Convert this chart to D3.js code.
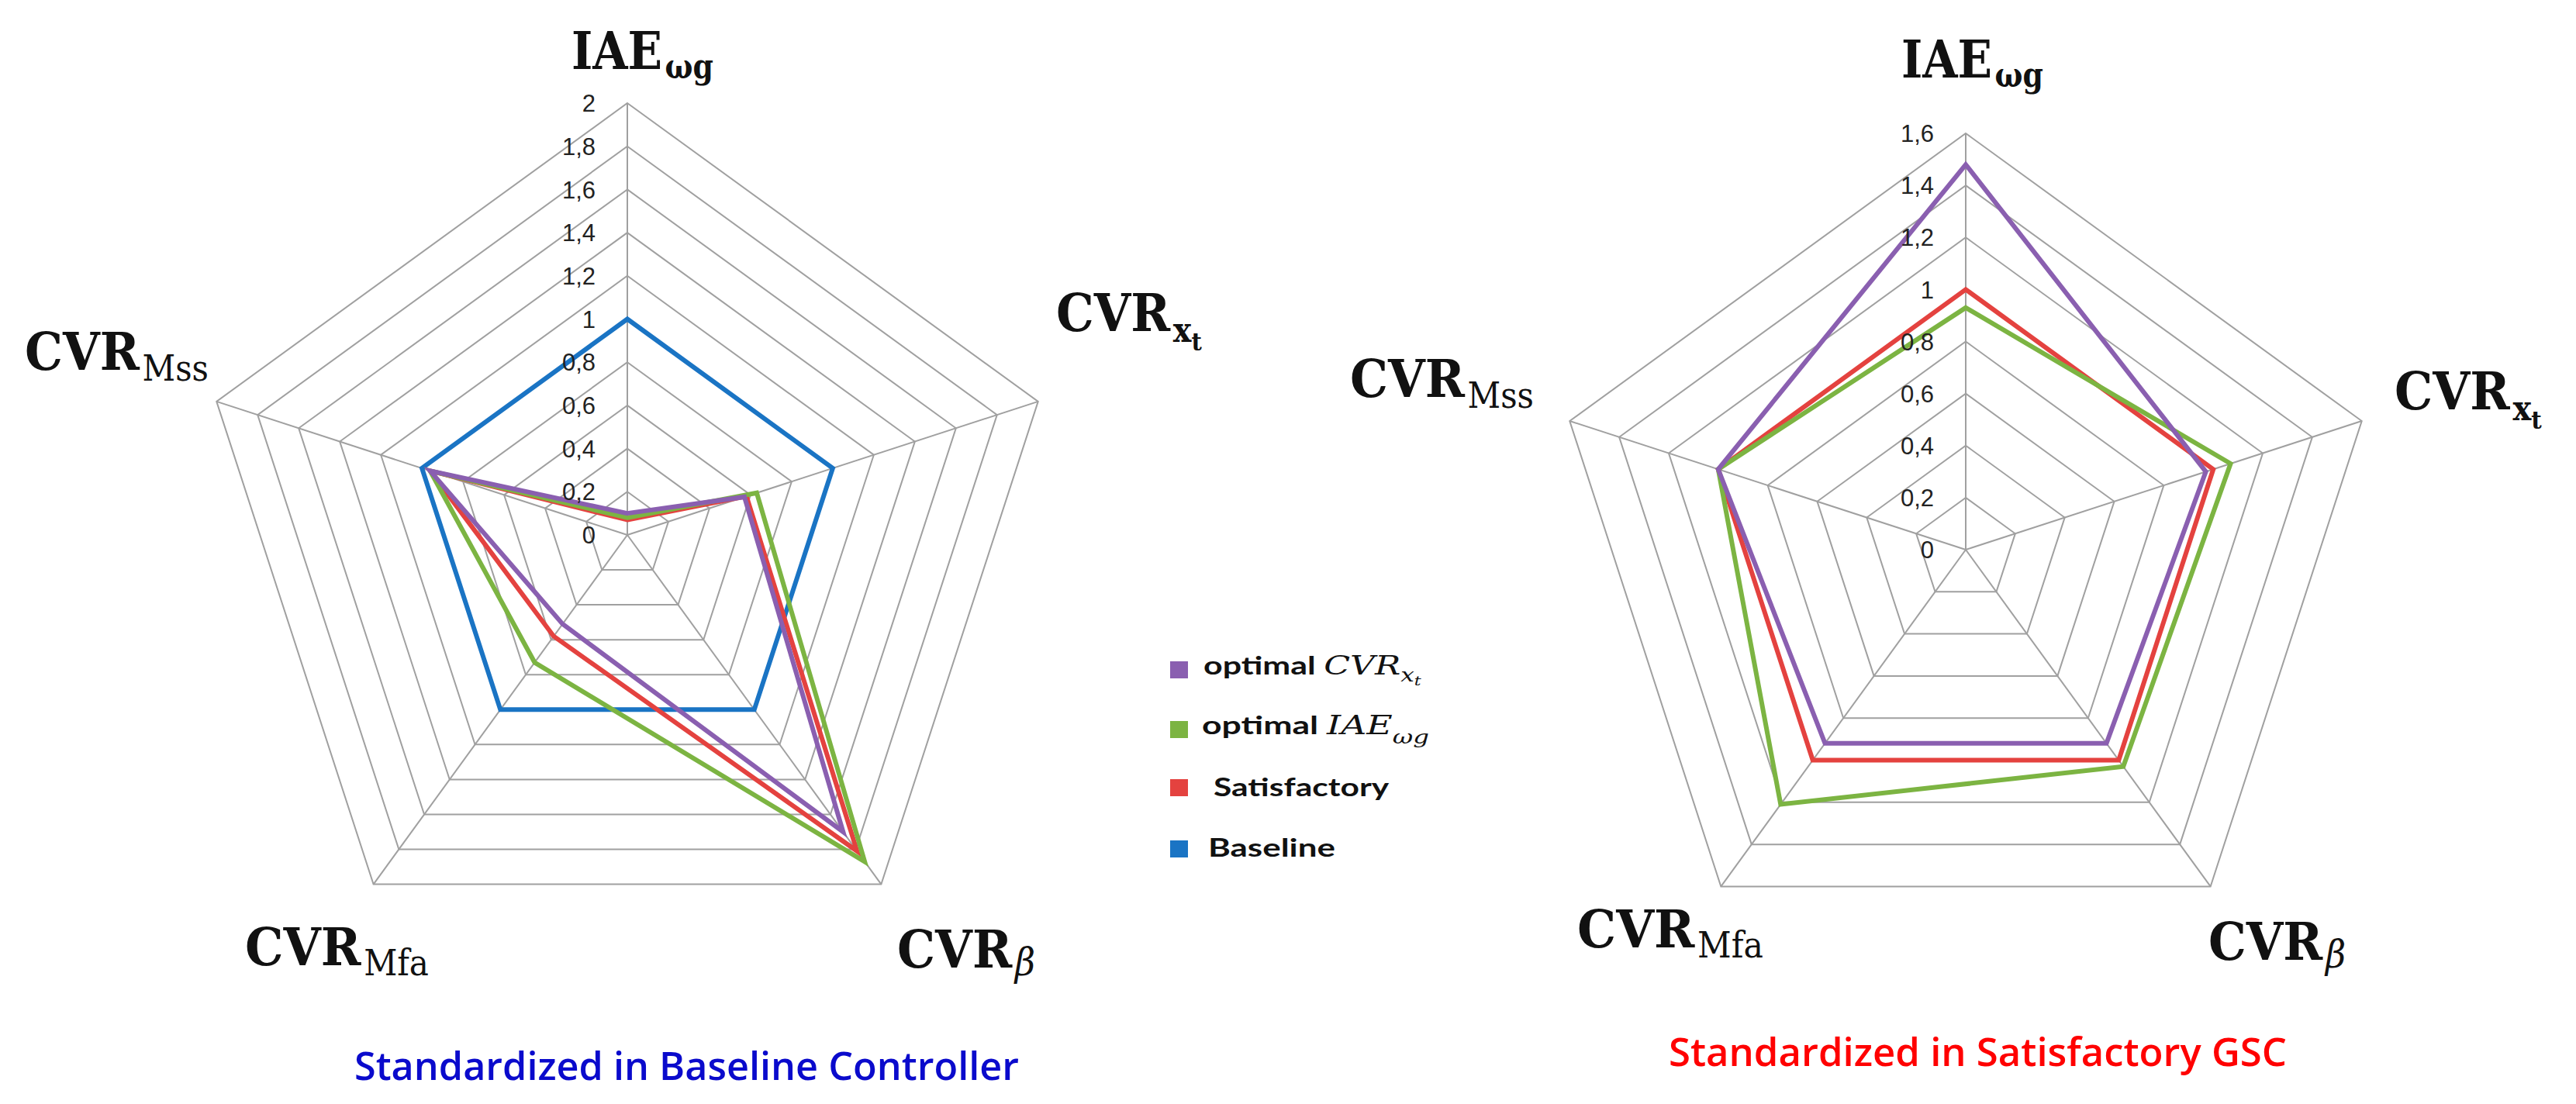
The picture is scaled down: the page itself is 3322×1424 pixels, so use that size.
<!DOCTYPE html>
<html><head><meta charset="utf-8">
<script src="https://cdn.jsdelivr.net/npm/d3@7"></script>
<style>html,body{margin:0;padding:0;background:#fff;} svg{display:block;}</style>
</head><body>
<svg id="chart" width="3322" height="1424"></svg>
<script>
// ---------------- data ----------------
const axisMain = ["IAE", "CVR", "CVR", "CVR", "CVR"];
const axisSub  = ["ωg", "xt", "β", "Mfa", "Mss"];

const seriesNames = ["optimal CVRxt", "optimal IAEωg", "Satisfactory", "Baseline"];

const leftTicks  = [0, 0.2, 0.4, 0.6, 0.8, 1, 1.2, 1.4, 1.6, 1.8, 2];
const rightTicks = [0, 0.2, 0.4, 0.6, 0.8, 1, 1.2, 1.4, 1.6];

// axis order: IAEωg, CVRxt, CVRβ, CVRMfa, CVRMss
const leftBaseline     = [1, 1, 1, 1, 1];
const leftSatisfactory = [0.07, 0.58, 1.81, 0.58, 0.96];
const leftOptimalIAE   = [0.08, 0.63, 1.87, 0.73, 0.96];
const leftOptimalCVR   = [0.10, 0.57, 1.70, 0.51, 0.96];

const rightSatisfactory = [1, 1, 1, 1, 1];
const rightOptimalIAE   = [0.93, 1.07, 1.03, 1.21, 1.00];
const rightOptimalCVR   = [1.48, 0.97, 0.92, 0.92, 1.00];

const chartTitles = ["Standardized in Baseline Controller", "Standardized in Satisfactory GSC"];

// ---------------- style / layout ----------------
const colors = {cvr: "#8a5fb0", iae: "#7cb442", sat: "#e4423f", base: "#1a74c4"};
const GRID = "#a0a0a0";
const SERIF = "'DejaVu Serif', 'Liberation Serif', serif";
const SANS = "'Liberation Sans', 'Open Sans', sans-serif";
const LEG = "Lato, 'Open Sans', sans-serif";
const TITLE = "'Open Sans', 'Liberation Sans', sans-serif";

const svg = d3.select("#chart");
svg.append("rect").attr("width", 3322).attr("height", 1424).attr("fill", "#fff");

// flowing text made of pieces, stretched horizontally to a target width
function flowLabel(x, y, targetW, pieces, family, fill) {
  const g = svg.append("g");
  const t = g.append("text").attr("x", 0).attr("y", 0)
    .attr("font-family", family || SERIF).attr("fill", fill || "#111");
  pieces.forEach(p => {
    t.append("tspan").text(p.text)
      .attr("dx", p.dx || 0).attr("dy", p.dy || 0)
      .attr("font-size", p.size)
      .attr("font-weight", p.weight || "normal")
      .attr("font-style", p.style || "normal")
      .attr("font-family", p.family || null);
  });
  const bb = t.node().getBBox();
  const sx = targetW / bb.width;
  g.attr("transform", `translate(${x - bb.x * sx},${y}) scale(${sx},1)`);
  return g;
}

// label placement: left edge x, baseline y, total width, sub offsets
const leftLabelPos = [
  {x: 737, y: 89, w: 183, dy: [12]},
  {x: 1362, y: 427, w: 188, dy: [14, 11]},
  {x: 1157, y: 1248, w: 178, dy: [10]},
  {x: 316, y: 1245, w: 237, dy: [13]},
  {x: 32, y: 477, w: 237, dy: [14]}
];
const rightLabelPos = [
  {x: 2452, y: 100, w: 183, dy: [12]},
  {x: 3088, y: 528, w: 190, dy: [14, 11]},
  {x: 2848, y: 1238, w: 177, dy: [10]},
  {x: 2034, y: 1222, w: 240, dy: [13]},
  {x: 1741, y: 512, w: 237, dy: [14]}
];
const subStyle = [
  [{size: 44, weight: "bold"}],
  [{size: 44, weight: "bold"}, {size: 32, weight: "bold"}],
  [{size: 50, style: "italic"}],
  [{size: 46}],
  [{size: 46}]
];

const charts = [
  {cx: 809, cy: 690, R: 557, ticks: leftTicks, labels: leftLabelPos,
   series: [
     {vals: leftBaseline, color: colors.base},
     {vals: leftSatisfactory, color: colors.sat},
     {vals: leftOptimalIAE, color: colors.iae},
     {vals: leftOptimalCVR, color: colors.cvr}
   ],
   title: {x: 457, y: 1393, w: 857, fill: "#0a0acc"}},
  {cx: 2535, cy: 709, R: 537, ticks: rightTicks, labels: rightLabelPos,
   series: [
     {vals: rightSatisfactory, color: colors.sat},
     {vals: rightOptimalIAE, color: colors.iae},
     {vals: rightOptimalCVR, color: colors.cvr}
   ],
   title: {x: 2152, y: 1375, w: 797, fill: "#ff0000"}}
];

const fmt = v => String(+v.toFixed(1)).replace(".", ",");
const n = axisMain.length;
const ang = i => i * 2 * Math.PI / n;

charts.forEach((c, ci) => {
  const maxV = d3.max(c.ticks);
  const r = d3.scaleLinear().domain([0, maxV]).range([0, c.R]);
  const g = svg.append("g").attr("transform", `translate(${c.cx},${c.cy})`);
  const radial = d3.lineRadial().angle(d => d[0]).radius(d => d[1]).curve(d3.curveLinearClosed);

  // rings
  c.ticks.filter(t => t > 0).forEach(t => {
    g.append("path").attr("d", radial(d3.range(n).map(i => [ang(i), r(t)])))
      .attr("fill", "none").attr("stroke", GRID).attr("stroke-width", 2);
  });
  // spokes
  d3.range(n).forEach(i => {
    g.append("line").attr("x1", 0).attr("y1", 0)
      .attr("x2", r(maxV) * Math.sin(ang(i))).attr("y2", -r(maxV) * Math.cos(ang(i)))
      .attr("stroke", GRID).attr("stroke-width", 2);
  });
  // series
  c.series.forEach(s => {
    g.append("path").attr("d", radial(s.vals.map((v, i) => [ang(i), r(v)])))
      .attr("fill", "none").attr("stroke", s.color).attr("stroke-width", 6)
      .attr("stroke-linejoin", "miter").attr("stroke-miterlimit", 20);
  });
  // tick labels
  c.ticks.forEach(t => {
    g.append("text").attr("x", -41).attr("y", -r(t)).attr("dy", "0.36em")
      .attr("text-anchor", "end").attr("font-family", SANS).attr("font-size", 31)
      .attr("fill", "#222").text(fmt(t));
  });
  // axis labels
  c.labels.forEach((p, i) => {
    const subParts = subStyle[i].length === 2 ? [axisSub[i].slice(0, 1), axisSub[i].slice(1)] : [axisSub[i]];
    const pieces = [{text: axisMain[i], size: 68, weight: "bold"}];
    subParts.forEach((s, k) => pieces.push(Object.assign({text: s, dx: k === 0 ? 4 : 0, dy: p.dy[k]}, subStyle[i][k])));
    flowLabel(p.x, p.y, p.w, pieces);
  });
  // title
  svg.append("text").attr("x", c.title.x).attr("y", c.title.y).text(chartTitles[ci])
    .attr("font-family", TITLE).attr("font-size", 50).attr("font-weight", 600)
    .attr("fill", c.title.fill).attr("textLength", c.title.w).attr("lengthAdjust", "spacingAndGlyphs");
});

// ---------------- legend ----------------
const legendColors = [colors.cvr, colors.iae, colors.sat, colors.base];
const legendY = [853, 930, 1005, 1084];
legendColors.forEach((col, i) => {
  svg.append("rect").attr("x", 1509).attr("y", legendY[i]).attr("width", 23).attr("height", 22).attr("fill", col);
});
flowLabel(1552, 870, 281, [
  {text: "optimal ", size: 33, weight: "bold", family: LEG},
  {text: "CVR", size: 34, style: "italic"},
  {text: "x", size: 24, style: "italic", dy: 9},
  {text: "t", size: 17, style: "italic", dy: 5}
]);
flowLabel(1550, 947, 293, [
  {text: "optimal ", size: 33, weight: "bold", family: LEG},
  {text: "IAE", size: 34, style: "italic"},
  {text: "ωg", size: 24, style: "italic", dy: 12}
]);
flowLabel(1565, 1027, 227, [{text: seriesNames[2], size: 33, weight: "bold"}], LEG);
flowLabel(1558, 1105, 164, [{text: seriesNames[3], size: 33, weight: "bold"}], LEG);
</script>
</body></html>
